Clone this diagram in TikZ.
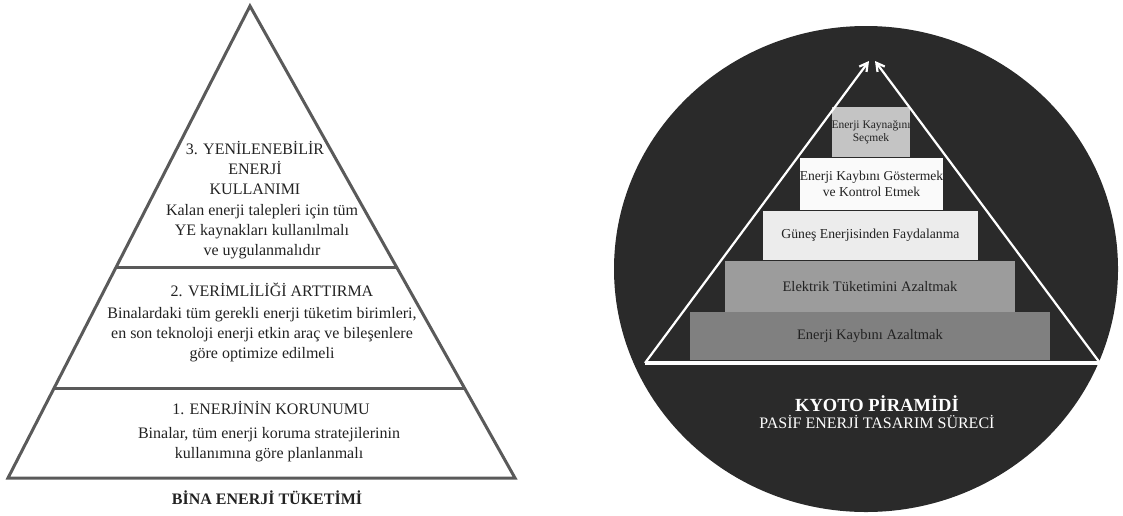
\documentclass[tikz,border=0pt]{standalone}
\usepackage{fontspec}
\setmainfont{Liberation Serif}
\usetikzlibrary{calc,arrows.meta}
\definecolor{edgegray}{HTML}{5A5A5A}
\definecolor{discdark}{HTML}{2A2A2A}
\definecolor{inkdark}{HTML}{222222}
\definecolor{stepone}{HTML}{808080}
\definecolor{steptwo}{HTML}{9C9C9C}
\definecolor{stepthree}{HTML}{ECECEC}
\definecolor{stepfour}{HTML}{FAFAFA}
\definecolor{stepfive}{HTML}{C4C4C4}

\begin{document}
\begin{tikzpicture}[x=1pt,y=-1pt,
  pyr/.style={draw=edgegray,line width=3pt},
  txt/.style={align=center,inner sep=0pt,text=inkdark,font=\fontsize{16}{20}\selectfont},
  stepbox/.style={inner sep=0pt,align=center,text=inkdark,font=\fontsize{14}{16}\selectfont},
  side/.style={white,line width=2.2pt,-{Straight Barb[length=8pt,width=9pt]}}]
\useasboundingbox (0,0) rectangle (1123,515);

% bina enerji tuketimi
\coordinate (apex) at (250,6);
\coordinate (bl) at (8,478);
\coordinate (br) at (515,478);
\draw[pyr] (apex) -- (br) -- (bl) -- cycle;
\draw[pyr] ($(apex)!0.555!(bl)$) -- ($(apex)!0.555!(br)$);
\draw[pyr] ($(apex)!0.811!(bl)$) -- ($(apex)!0.811!(br)$);
\node[txt] (yenihead) at (255,168) {3. YENİLENEBİLİR\\ENERJİ\\KULLANIMI};
\node[txt] (yenibody) at (262,232) {Kalan enerji talepleri için tüm\\YE kaynakları kullanılmalı\\ve uygulanmalıdır};
\node[txt] (verimhead) at (272,290) {2. VERİMLİLİĞİ ARTTIRMA};
\node[txt] (verimbody) at (262,335) {Binalardaki tüm gerekli enerji tüketim birimleri,\\en son teknoloji enerji etkin araç ve bileşenlere\\göre optimize edilmeli};
\node[txt] (koruhead) at (271,408) {1. ENERJİNİN KORUNUMU};
\node[txt] (korubody) at (269,445) {Binalar, tüm enerji koruma stratejilerinin\\kullanımına göre planlanmalı};
\node[txt,font=\fontsize{16}{18}\selectfont\bfseries] (bina) at (267,498) {BİNA ENERJİ TÜKETİMİ};

% kyoto piramidi
\fill[discdark] (866,269) ellipse [x radius=252pt,y radius=243pt];
\node[stepbox,fill=stepone,minimum width=360pt,minimum height=48pt,font=\fontsize{14.5}{16}\selectfont] (kayip) at (870,336) {Enerji Kaybını Azaltmak};
\node[stepbox,fill=steptwo,minimum width=290pt,minimum height=51pt,font=\fontsize{14.5}{16}\selectfont] (elektrik) at (870,286.5) {Elektrik Tüketimini Azaltmak};
\node[stepbox,fill=stepthree,minimum width=215pt,minimum height=49pt,font=\fontsize{13.7}{16}\selectfont] (gunes) at (870.5,235.5) {Güneş Enerjisinden Faydalanma};
\node[stepbox,fill=stepfour,minimum width=141pt,minimum height=52pt,font=\fontsize{13.6}{16}\selectfont] (kontrol) at (871.5,184) {Enerji Kaybını Göstermek\\ve Kontrol Etmek};
\node[stepbox,fill=stepfive,minimum width=70pt,minimum height=50pt,font=\fontsize{11.5}{13}\selectfont] (kaynak) at (871,132) {Enerji Kaynağını\\Seçmek};
\coordinate (kl) at (645,363);
\coordinate (kr) at (1100,363);
\coordinate (tipl) at (869,61);
\coordinate (tipr) at (875,61);
\draw[white,line width=3.5pt] (kl) -- (kr);
\draw[side] (kl) -- (tipl);
\draw[side] (kr) -- (tipr);
\node[text=white,font=\fontsize{18.5}{20}\selectfont\bfseries] (kyoto) at (877,404) {KYOTO PİRAMİDİ};
\node[text=white,font=\fontsize{16}{18}\selectfont] (pasif) at (877,422) {PASİF ENERJİ TASARIM SÜRECİ};
\end{tikzpicture}
\end{document}
